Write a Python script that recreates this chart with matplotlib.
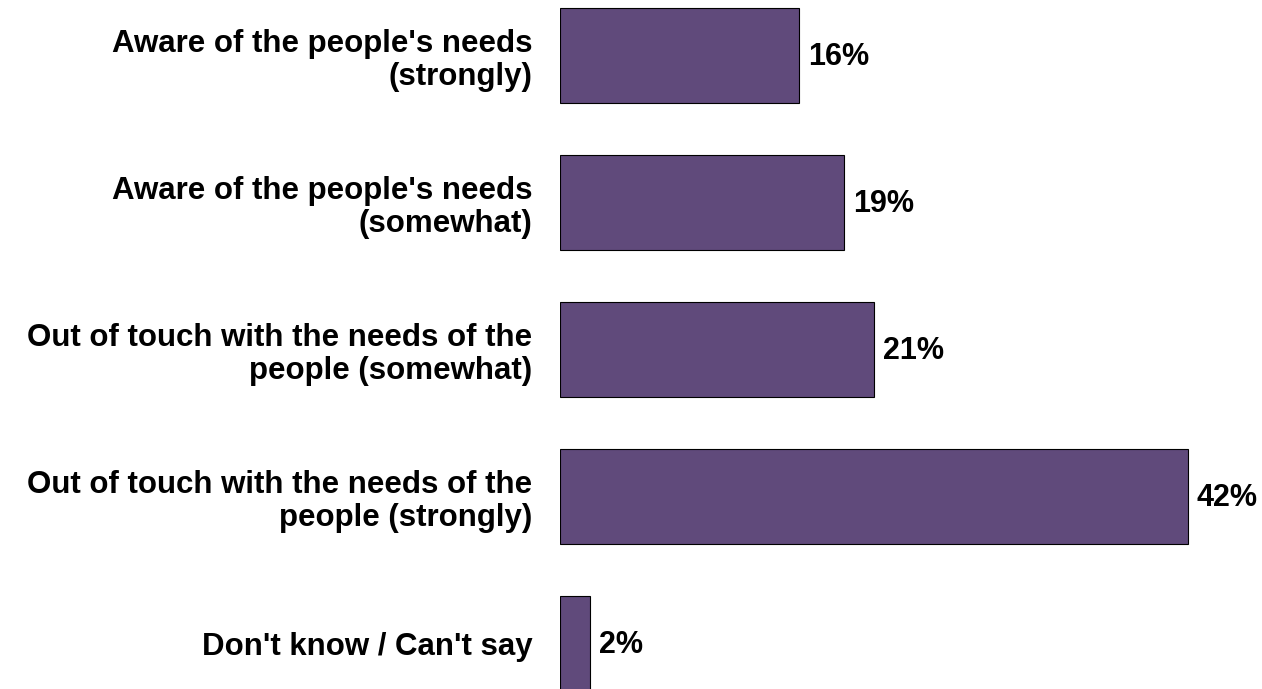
import matplotlib.pyplot as plt
from matplotlib import font_manager

categories = [
    "Aware of the people's needs\n(strongly)",
    "Aware of the people's needs\n(somewhat)",
    "Out of touch with the needs of the\npeople (somewhat)",
    "Out of touch with the needs of the\npeople (strongly)",
    "Don't know / Can't say",
]
values = [16, 19, 21, 42, 2]

# pick the regular-width Liberation Sans Bold, not the Narrow one
bold_files = [f for f in font_manager.findSystemFonts()
              if f.endswith("LiberationSans-Bold.ttf")]
if bold_files:
    fp = font_manager.FontProperties(fname=bold_files[0], size=22.5)
    fp_pct = font_manager.FontProperties(fname=bold_files[0], size=22)
else:
    fp = font_manager.FontProperties(family="DejaVu Sans", weight="bold", size=19)
    fp_pct = fp

fig = plt.figure(figsize=(12.62, 6.89), dpi=100)
ax = fig.add_axes([560 / 1262, 0, 702 / 1262, 1])

y = list(range(len(values)))
ax.barh(y, values, height=0.646, color="#604a7b", edgecolor="black", linewidth=0.8)

for yi, v in zip(y, values):
    ax.text(v + 0.6, yi + 0.01, f"{v}%", va="center", ha="left", fontproperties=fp_pct)

ax.set_xlim(0, 702 / 14.95)
ax.set_ylim((689 - 55.5) / 147, -55.5 / 147)
ax.set_yticks(y)
ax.set_yticklabels(categories, fontproperties=fp, linespacing=1.15)
ax.tick_params(axis="y", length=0, pad=20)
ax.set_xticks([])
for s in ax.spines.values():
    s.set_visible(False)

fig.savefig("out.png", dpi=100)
